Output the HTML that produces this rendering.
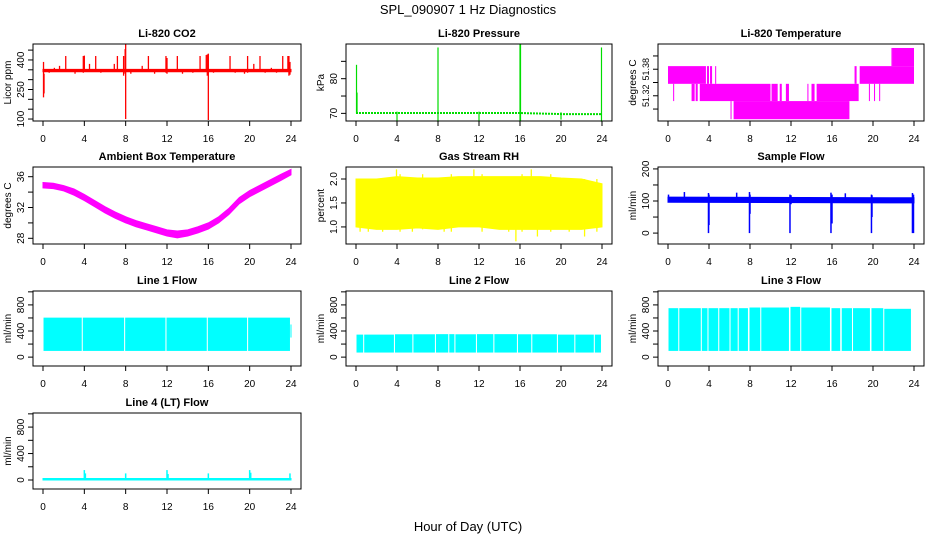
<!DOCTYPE html>
<html><head><meta charset="utf-8"><style>
body{margin:0;background:#fff;}
svg{display:block;font-family:"Liberation Sans",sans-serif;}
</style></head><body>
<svg id="chart" width="936" height="540" xmlns="http://www.w3.org/2000/svg">
<text x="468" y="14" font-size="13" text-anchor="middle">SPL_090907  1 Hz Diagnostics</text>
<text x="468" y="531" font-size="13" text-anchor="middle">Hour of Day (UTC)</text>
</svg>
<script>
// ---- data ----
const hourTicks=[0,4,8,12,16,20,24];
const co2BandT=[0,24];
const co2BandLo=[340,340];
const co2BandHi=[352,352];
const co2SpikeT=[0.05,0.1,0.6,1.1,1.6,2.2,3.1,3.9,4.0,4.5,5.1,5.6,6.9,7.2,7.8,7.95,8.0,8.5,9.6,10.2,10.8,11.9,12.0,12.5,13.0,13.5,14.5,15.2,15.8,15.9,16.0,16.5,17.4,18.1,18.6,19.5,19.8,20.4,21.0,21.5,22.1,22.6,23.2,23.7,23.8,23.9];
const co2SpikeLo=[210,330,335,340,345,345,330,335,340,345,345,335,345,345,320,330,100,330,345,345,330,335,330,340,345,330,335,345,340,320,95,335,345,345,335,330,335,345,345,335,345,335,345,340,320,325];
const co2SpikeHi=[390,230,352,360,370,420,352,420,422,380,420,352,380,420,420,455,481,352,370,420,352,420,410,352,420,352,352,420,425,428,432,352,352,420,352,352,420,380,420,352,360,352,420,420,420,390];
const presLineT=[0,8,16,20,24];
const presLineV=[70.1,70.1,70.1,69.8,69.8];
const presSpikeT=[0.05,0.1,4,8,12,16,16.05,20,23.95];
const presSpikeLo=[70,70,67.8,67.5,67.6,67.8,67.8,68.2,67.6];
const presSpikeHi=[84,76,70.5,89,70.5,90,90,70.3,89];
const tempSegStart=[0,3.8,4.1,4.6,0.5,2.3,2.7,3.1,6.1,6.4,10.1,10.9,11.5,13.6,14.0,14.5,18.2,18.7,19.6,20.1,20.6,21.8,21.9];
const tempSegEnd  =[3.7,4.0,4.3,4.7,0.6,2.6,2.9,10.0,6.2,17.7,10.7,11.1,11.8,13.7,14.3,18.6,18.4,24.0,19.7,20.2,20.7,21.85,24.0];
const tempSegLo   =[51.347,51.347,51.347,51.347,51.308,51.308,51.308,51.308,51.267,51.267,51.308,51.308,51.308,51.308,51.308,51.308,51.347,51.347,51.308,51.308,51.308,51.387,51.387];
const tempSegHi   =[51.387,51.387,51.387,51.387,51.347,51.347,51.347,51.347,51.308,51.308,51.347,51.347,51.347,51.347,51.347,51.347,51.387,51.387,51.347,51.347,51.347,51.428,51.428];
const ambT=[0,1,2,3,4,5,6,7,8,9,10,11,12,13,14,15,16,17,18,19,20,21,22,23,24];
const ambMid=[34.9,34.8,34.5,34.0,33.3,32.5,31.7,31.0,30.4,29.9,29.5,29.1,28.7,28.5,28.7,29.1,29.6,30.4,31.5,32.9,33.8,34.5,35.2,35.9,36.6];
const ambHalf=[0.35,0.35,0.35,0.4,0.4,0.4,0.4,0.4,0.4,0.4,0.4,0.4,0.4,0.45,0.4,0.4,0.4,0.4,0.4,0.4,0.4,0.4,0.4,0.4,0.35];
const rhT=[0,2,4,6,8,10,12,14,16,18,20,22,24];
const rhLo=[1.0,0.95,0.95,0.98,0.95,1.0,1.0,0.95,0.95,0.95,0.95,0.95,1.0];
const rhHi=[2.0,2.0,2.05,2.02,2.02,2.05,2.05,2.05,2.05,2.05,2.02,2.0,1.9];
const rhSpikeT=[0.4,1.2,2.6,3.95,4.3,5.5,6.5,8.6,9.3,11.5,12.3,14.9,15.6,16.2,17.1,17.7,19.0,20.8,22.3,23.5];
const rhSpikeLo=[0.9,0.9,0.9,1.0,0.9,0.9,0.95,0.9,0.9,1.0,0.9,0.9,0.7,0.9,1.0,0.8,0.9,0.9,0.8,0.9];
const rhSpikeHi=[2.0,2.0,2.0,2.2,2.1,2.0,2.1,2.0,2.1,2.2,2.1,2.0,2.0,2.1,2.2,2.0,2.1,2.0,2.0,2.0];
const sfBandT=[0,24];
const sfBandLo=[96,94];
const sfBandHi=[112,110];
const sfSpikeT=[0.05,1.6,3.95,4.0,6.7,7.95,8.0,11.9,12.0,15.9,16.0,17.3,19.85,19.9,23.85,23.95];
const sfSpikeLo=[100,100,0,25,100,0,60,0,90,0,30,100,0,50,0,0];
const sfSpikeHi=[120,128,125,120,126,128,120,120,118,126,120,124,120,118,125,120];
const l1SegStart=[0.05,3.85,7.95,11.95,15.95,19.85,23.95];
const l1SegEnd=[3.75,7.85,11.85,15.85,19.75,23.9,24.0];
const l1SegLo=[95,95,95,95,95,95,300];
const l1SegHi=[605,605,605,605,605,605,500];
const l2SegStart=[0.05,0.8,3.8,5.6,7.8,9.1,9.7,11.8,13.5,15.8,17.2,19.7,21.4,23.3];
const l2SegEnd=[0.7,3.7,5.5,7.7,9.0,9.6,11.7,13.4,15.7,17.1,19.6,21.3,23.2,23.9];
const l2SegLo=[70,70,70,70,70,70,70,70,70,70,70,70,70,70];
const l2SegHi=[345,345,350,350,352,352,350,352,352,350,350,345,345,345];
const l3SegStart=[0.05,1.1,3.3,3.95,5.0,6.1,6.9,7.95,9.1,11.95,13.0,15.95,16.95,18.05,19.85,21.1];
const l3SegEnd=[1.0,3.2,3.85,4.9,6.0,6.8,7.8,9.0,11.8,12.9,15.8,16.8,17.95,19.7,21.0,23.7];
const l3SegLo=[95,95,95,95,95,95,95,95,95,95,95,95,95,95,95,95];
const l3SegHi=[750,750,750,750,750,750,750,760,760,770,760,750,750,750,750,740];
const l4BandT=[0,24];
const l4BandLo=[0,0];
const l4BandHi=[22,22];
const l4SpikeT=[4.0,4.1,8.0,12.0,12.1,16.0,20.0,20.1,23.9];
const l4SpikeLo=[0,0,0,0,0,0,0,0,0];
const l4SpikeHi=[150,100,100,150,90,100,150,110,100];

// ---- layout helpers ----
const NS='http://www.w3.org/2000/svg';
const svg=document.getElementById('chart');
const colL=[33,346,658], colR=[301,612,924];
const rowT=[44,167,291,413], rowB=[121,244,366,489];
function mk(tag,attrs,parent){const e=document.createElementNS(NS,tag);for(const k in attrs)e.setAttribute(k,attrs[k]);(parent||svg).appendChild(e);return e;}

function panel(cfg){
  const L=colL[cfg.c],R=colR[cfg.c],T=rowT[cfg.r],B=rowB[cfg.r];
  const g=mk('g',{});
  
  
  const xs=h=>L+10+(R-L-20)*h/24;
  const ys=v=>B-(v-cfg.y0)/(cfg.y1-cfg.y0)*(B-T);
  const marks=mk('g',{},g);
  
  
  cfg.draw(marks,xs,ys);
  const box=mk('rect',{x:L,y:T,width:R-L,height:B-T,fill:'none',stroke:'#000','stroke-width':1},g);
  
  
  const t=mk('text',{x:(L+R)/2,y:T-7,'font-size':11,'font-weight':'bold','text-anchor':'middle'},g);
  t.textContent=cfg.title;
  
  
  const xa=mk('g',{},g);
  
  
  mk('line',{x1:xs(0),x2:xs(24),y1:B,y2:B,stroke:'#000'},xa);
  hourTicks.forEach(h=>{
    mk('line',{x1:xs(h),x2:xs(h),y1:B,y2:B+5,stroke:'#000'},xa);
    const tx=mk('text',{x:xs(h),y:B+21,'font-size':10,'text-anchor':'middle'},xa);
    tx.textContent=h;
    
    
  });
  const ya=mk('g',{},g);
  
  
  const tk=cfg.ticks;
  mk('line',{x1:L,x2:L,y1:ys(tk[0]),y2:ys(tk[tk.length-1]),stroke:'#000'},ya);
  tk.forEach(v=>{mk('line',{x1:L-5,x2:L,y1:ys(v),y2:ys(v),stroke:'#000'},ya);});
  cfg.labels.forEach(v=>{
    const yy=ys(v);
    const tx=mk('text',{x:L-9,y:yy,'font-size':cfg.lfs||10,'text-anchor':'middle',transform:`rotate(-90 ${L-9} ${yy})`},ya);
    tx.textContent=cfg.fmt?cfg.fmt(v):v;
    
    
  });
  const yt=mk('text',{x:L-22,y:(T+B)/2,'font-size':10,'text-anchor':'middle',transform:`rotate(-90 ${L-22} ${(T+B)/2})`},g);
  yt.textContent=cfg.ylab;
  
  
}
function band(p,xs,ys,T,lo,hi,col){
  let d='M'+T.map((t,i)=>xs(t)+','+ys(hi[i])).join('L');
  for(let i=T.length-1;i>=0;i--)d+='L'+xs(T[i])+','+ys(lo[i]);
  const e=mk('path',{d:d+'Z',fill:col,stroke:col,'stroke-width':1},p);
  
  
}
function spikes(p,xs,ys,T,lo,hi,col,w){
  T.forEach((t,i)=>{
    const e=mk('line',{x1:xs(t),x2:xs(t),y1:ys(lo[i]),y2:ys(hi[i]),stroke:col,'stroke-width':w||1.3},p);
    
    
  });
}
function segs(p,xs,ys,S,E,lo,hi,col){
  S.forEach((s,i)=>{
    const e=mk('rect',{x:xs(s),y:ys(hi[i]),width:Math.max(1,xs(E[i])-xs(s)),height:ys(lo[i])-ys(hi[i]),fill:col},p);
    
    
  });
}
const flowTicks=[0,200,400,600,800,1000], flowLabels=[0,400,800];
panel({name:'co2',c:0,r:0,title:'Li-820 CO2',ylab:'Licor ppm',y0:90,y1:481,ticks:[100,150,200,250,300,350,400,450],labels:[100,250,400],
  draw:(p,xs,ys)=>{band(p,xs,ys,co2BandT,co2BandLo,co2BandHi,'#ff0000');spikes(p,xs,ys,co2SpikeT,co2SpikeLo,co2SpikeHi,'#ff0000');}});
panel({name:'pressure',c:1,r:0,title:'Li-820 Pressure',ylab:'kPa',y0:67.8,y1:90,ticks:[70,75,80,85],labels:[70,80],
  draw:(p,xs,ys)=>{
    const d='M'+presLineT.map((t,i)=>xs(t)+','+ys(presLineV[i])).join('L');
    const e=mk('path',{d:d,fill:'none',stroke:'#00dd00','stroke-width':2,'stroke-dasharray':'2 1'},p);
    
    
    spikes(p,xs,ys,presSpikeT,presSpikeLo,presSpikeHi,'#00dd00',1.2);}});
panel({name:'li820-temp',c:2,r:0,title:'Li-820 Temperature',ylab:'degrees C',y0:51.263,y1:51.437,lfs:9,ticks:[51.29,51.32,51.35,51.38,51.41],labels:[51.32,51.38],fmt:v=>v.toFixed(2),
  draw:(p,xs,ys)=>segs(p,xs,ys,tempSegStart,tempSegEnd,tempSegLo,tempSegHi,'#ff00ff')});
panel({name:'ambient-temp',c:0,r:1,title:'Ambient Box Temperature',ylab:'degrees C',y0:27.26,y1:37.26,ticks:[28,30,32,34,36],labels:[28,32,36],
  draw:(p,xs,ys)=>band(p,xs,ys,ambT,ambMid.map((m,i)=>m-ambHalf[i]),ambMid.map((m,i)=>m+ambHalf[i]),'#ff00ff')});
panel({name:'rh',c:1,r:1,title:'Gas Stream RH',ylab:'percent',y0:0.644,y1:2.25,ticks:[1.0,1.5,2.0],labels:[1.0,1.5,2.0],fmt:v=>v.toFixed(1),
  draw:(p,xs,ys)=>{band(p,xs,ys,rhT,rhLo,rhHi,'#ffff00');spikes(p,xs,ys,rhSpikeT,rhSpikeLo,rhSpikeHi,'#ffff00');}});
panel({name:'sample-flow',c:2,r:1,title:'Sample Flow',ylab:'ml/min',y0:-34,y1:206,ticks:[0,50,100,150,200],labels:[0,100,200],
  draw:(p,xs,ys)=>{band(p,xs,ys,sfBandT,sfBandLo,sfBandHi,'#0000ff');spikes(p,xs,ys,sfSpikeT,sfSpikeLo,sfSpikeHi,'#0000ff',1.5);}});
panel({name:'line1-flow',c:0,r:2,title:'Line 1 Flow',ylab:'ml/min',y0:-136,y1:1013,ticks:flowTicks,labels:flowLabels,
  draw:(p,xs,ys)=>segs(p,xs,ys,l1SegStart,l1SegEnd,l1SegLo,l1SegHi,'#00ffff')});
panel({name:'line2-flow',c:1,r:2,title:'Line 2 Flow',ylab:'ml/min',y0:-136,y1:1013,ticks:flowTicks,labels:flowLabels,
  draw:(p,xs,ys)=>segs(p,xs,ys,l2SegStart,l2SegEnd,l2SegLo,l2SegHi,'#00ffff')});
panel({name:'line3-flow',c:2,r:2,title:'Line 3 Flow',ylab:'ml/min',y0:-136,y1:1013,ticks:flowTicks,labels:flowLabels,
  draw:(p,xs,ys)=>segs(p,xs,ys,l3SegStart,l3SegEnd,l3SegLo,l3SegHi,'#00ffff')});
panel({name:'line4-flow',c:0,r:3,title:'Line 4 (LT) Flow',ylab:'ml/min',y0:-136,y1:1013,ticks:flowTicks,labels:flowLabels,
  draw:(p,xs,ys)=>{band(p,xs,ys,l4BandT,l4BandLo,l4BandHi,'#00ffff');spikes(p,xs,ys,l4SpikeT,l4SpikeLo,l4SpikeHi,'#00ffff',1.5);}});
</script>
</body></html>
